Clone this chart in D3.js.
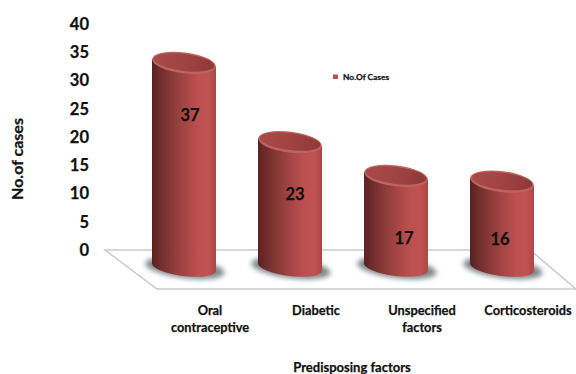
<!DOCTYPE html>
<html>
<head>
<meta charset="utf-8">
<script src="https://cdn.jsdelivr.net/npm/d3@7"></script>
<style>
  html, body { margin: 0; padding: 0; background: #fff; }
  svg { display: block; }
  text { font-family: Lato, "Open Sans", sans-serif; font-weight: 700; fill: #111; stroke: #111; stroke-width: 0.25px; }
  .domain { display: none; }
</style>
</head>
<body>
<svg id="chart" width="576" height="374"></svg>
<script>
const categories = ["Oral contraceptive", "Diabetic", "Unspecified factors", "Corticosteroids"];
const categoryLines = [["Oral", "contraceptive"], ["Diabetic"], ["Unspecified", "factors"], ["Corticosteroids"]];
const cases = [37, 23, 17, 16];
const yTicks = [0, 5, 10, 15, 20, 25, 30, 35, 40];
const seriesName = "No.Of Cases";
const xTitle = "Predisposing factors";
const yTitle = "No.of cases";

// Hand-placed nudges for the labels printed on the cylinders.
const labelShift = [[6, 74], [5, 74], [8, 84], [-2, 80]];

const svg = d3.select("#chart");
const defs = svg.append("defs");

const x = d3.scaleBand().domain(categories).range([131, 555]).paddingInner(0).paddingOuter(0);
const y = d3.scaleLinear().domain([0, 40]).range([250, 24]);

// Oblique projection: marks sit forward of the axis plane.
const depthTop = 22, depthBase = 17, rx = 32, ry = 9, tilt = 7;
const cx = d => x(d) + x.bandwidth() / 2;

const body = defs.append("linearGradient").attr("id", "body");
[[0, "#5a2221"], [0.12, "#6e2c2b"], [0.4, "#96403e"], [0.72, "#bd5050"], [0.88, "#c05251"], [1, "#ad4745"]]
  .forEach(([o, c]) => body.append("stop").attr("offset", o).attr("stop-color", c));

const cap = defs.append("linearGradient").attr("id", "cap");
[[0, "#a84a49"], [0.5, "#a04342"], [1, "#8e3938"]]
  .forEach(([o, c]) => cap.append("stop").attr("offset", o).attr("stop-color", c));

defs.append("filter").attr("id", "soft")
  .attr("x", "-30%").attr("y", "-60%").attr("width", "160%").attr("height", "220%")
  .append("feGaussianBlur").attr("stdDeviation", 2.5);

// Floor of the 3D plot
const floorLine = d3.line();
svg.append("path")
  .attr("d", floorLine([[530, 250], [105, 250], [157, 289], [576, 289], [530, 250]]))
  .attr("fill", "none").attr("stroke", "#cacaca").attr("stroke-width", 1.5);

// Y axis
const yAxis = d3.axisLeft(y).tickValues(yTicks).tickSize(0).tickPadding(0);
svg.append("g").attr("transform", "translate(89,0)").call(yAxis)
  .call(g => g.selectAll("text").style("font-size", "16.5px").style("font-family", "Lato").style("font-weight", 700).attr("fill", "#111"));

// Cylinders
const rows = categories.map((c, i) => ({ c, v: cases[i], i }));
const bars = svg.selectAll("g.bar").data(rows).join("g").attr("class", "bar");

bars.append("ellipse")
  .attr("cx", d => cx(d.c) + 1)
  .attr("cy", y(0) + depthBase + 1)
  .attr("rx", rx + 8).attr("ry", ry + 1)
  .attr("transform", d => `rotate(${tilt} ${cx(d.c)} ${y(0) + depthBase})`)
  .attr("fill", "#5e6c70").attr("opacity", 0.8).attr("filter", "url(#soft)");

const rad = tilt * Math.PI / 180;
const dy = rx * Math.sin(rad);
bars.append("path")
  .attr("d", d => {
    const c = cx(d.c), top = y(d.v) + depthTop, base = y(0) + depthBase;
    return `M${c - rx},${top - dy} L${c + rx},${top + dy} L${c + rx},${base + dy}` +
      `A${rx},${ry} ${tilt} 0 1 ${c - rx},${base - dy} Z`;
  })
  .attr("fill", "url(#body)");

// Rim highlight, then the recessed cap inside it
bars.append("ellipse")
  .attr("cx", d => cx(d.c))
  .attr("cy", d => y(d.v) + depthTop)
  .attr("rx", rx).attr("ry", ry + 1.5)
  .attr("transform", d => `rotate(${tilt} ${cx(d.c)} ${y(d.v) + depthTop})`)
  .attr("fill", "#bd6362");
bars.append("ellipse")
  .attr("cx", d => cx(d.c))
  .attr("cy", d => y(d.v) + depthTop - 0.5)
  .attr("rx", rx - 1.5).attr("ry", ry - 0.5)
  .attr("transform", d => `rotate(${tilt} ${cx(d.c)} ${y(d.v) + depthTop})`)
  .attr("fill", "url(#cap)");

bars.append("text")
  .attr("x", d => cx(d.c) + labelShift[d.i][0])
  .attr("y", d => y(d.v) + labelShift[d.i][1])
  .attr("text-anchor", "middle").attr("dy", "0.35em")
  .style("font-size", "16.5px")
  .text(d => d.v);

// Category labels
const xLabels = svg.selectAll("text.cat").data(rows).join("text")
  .attr("class", "cat")
  .attr("text-anchor", "middle")
  .style("font-size", "12.8px");
xLabels.selectAll("tspan").data(d => categoryLines[d.i].map(t => ({ t, c: d.c }))).join("tspan")
  .attr("x", d => cx(d.c) + 26)
  .attr("y", (d, i) => 315 + i * 17)
  .text(d => d.t);

// Axis titles
svg.append("text").attr("x", 352).attr("y", 372).attr("text-anchor", "middle")
  .style("font-size", "13px").text(xTitle);
svg.append("text").attr("transform", "translate(23,159) rotate(-90)").attr("text-anchor", "middle")
  .style("font-size", "16px").text(yTitle);

// Legend
svg.append("rect").attr("x", 333).attr("y", 74.5).attr("width", 5).attr("height", 4.5).attr("fill", "#c0504d");
svg.append("text").attr("x", 343).attr("y", 80).style("font-size", "8.4px").text(seriesName);
</script>
</body>
</html>
